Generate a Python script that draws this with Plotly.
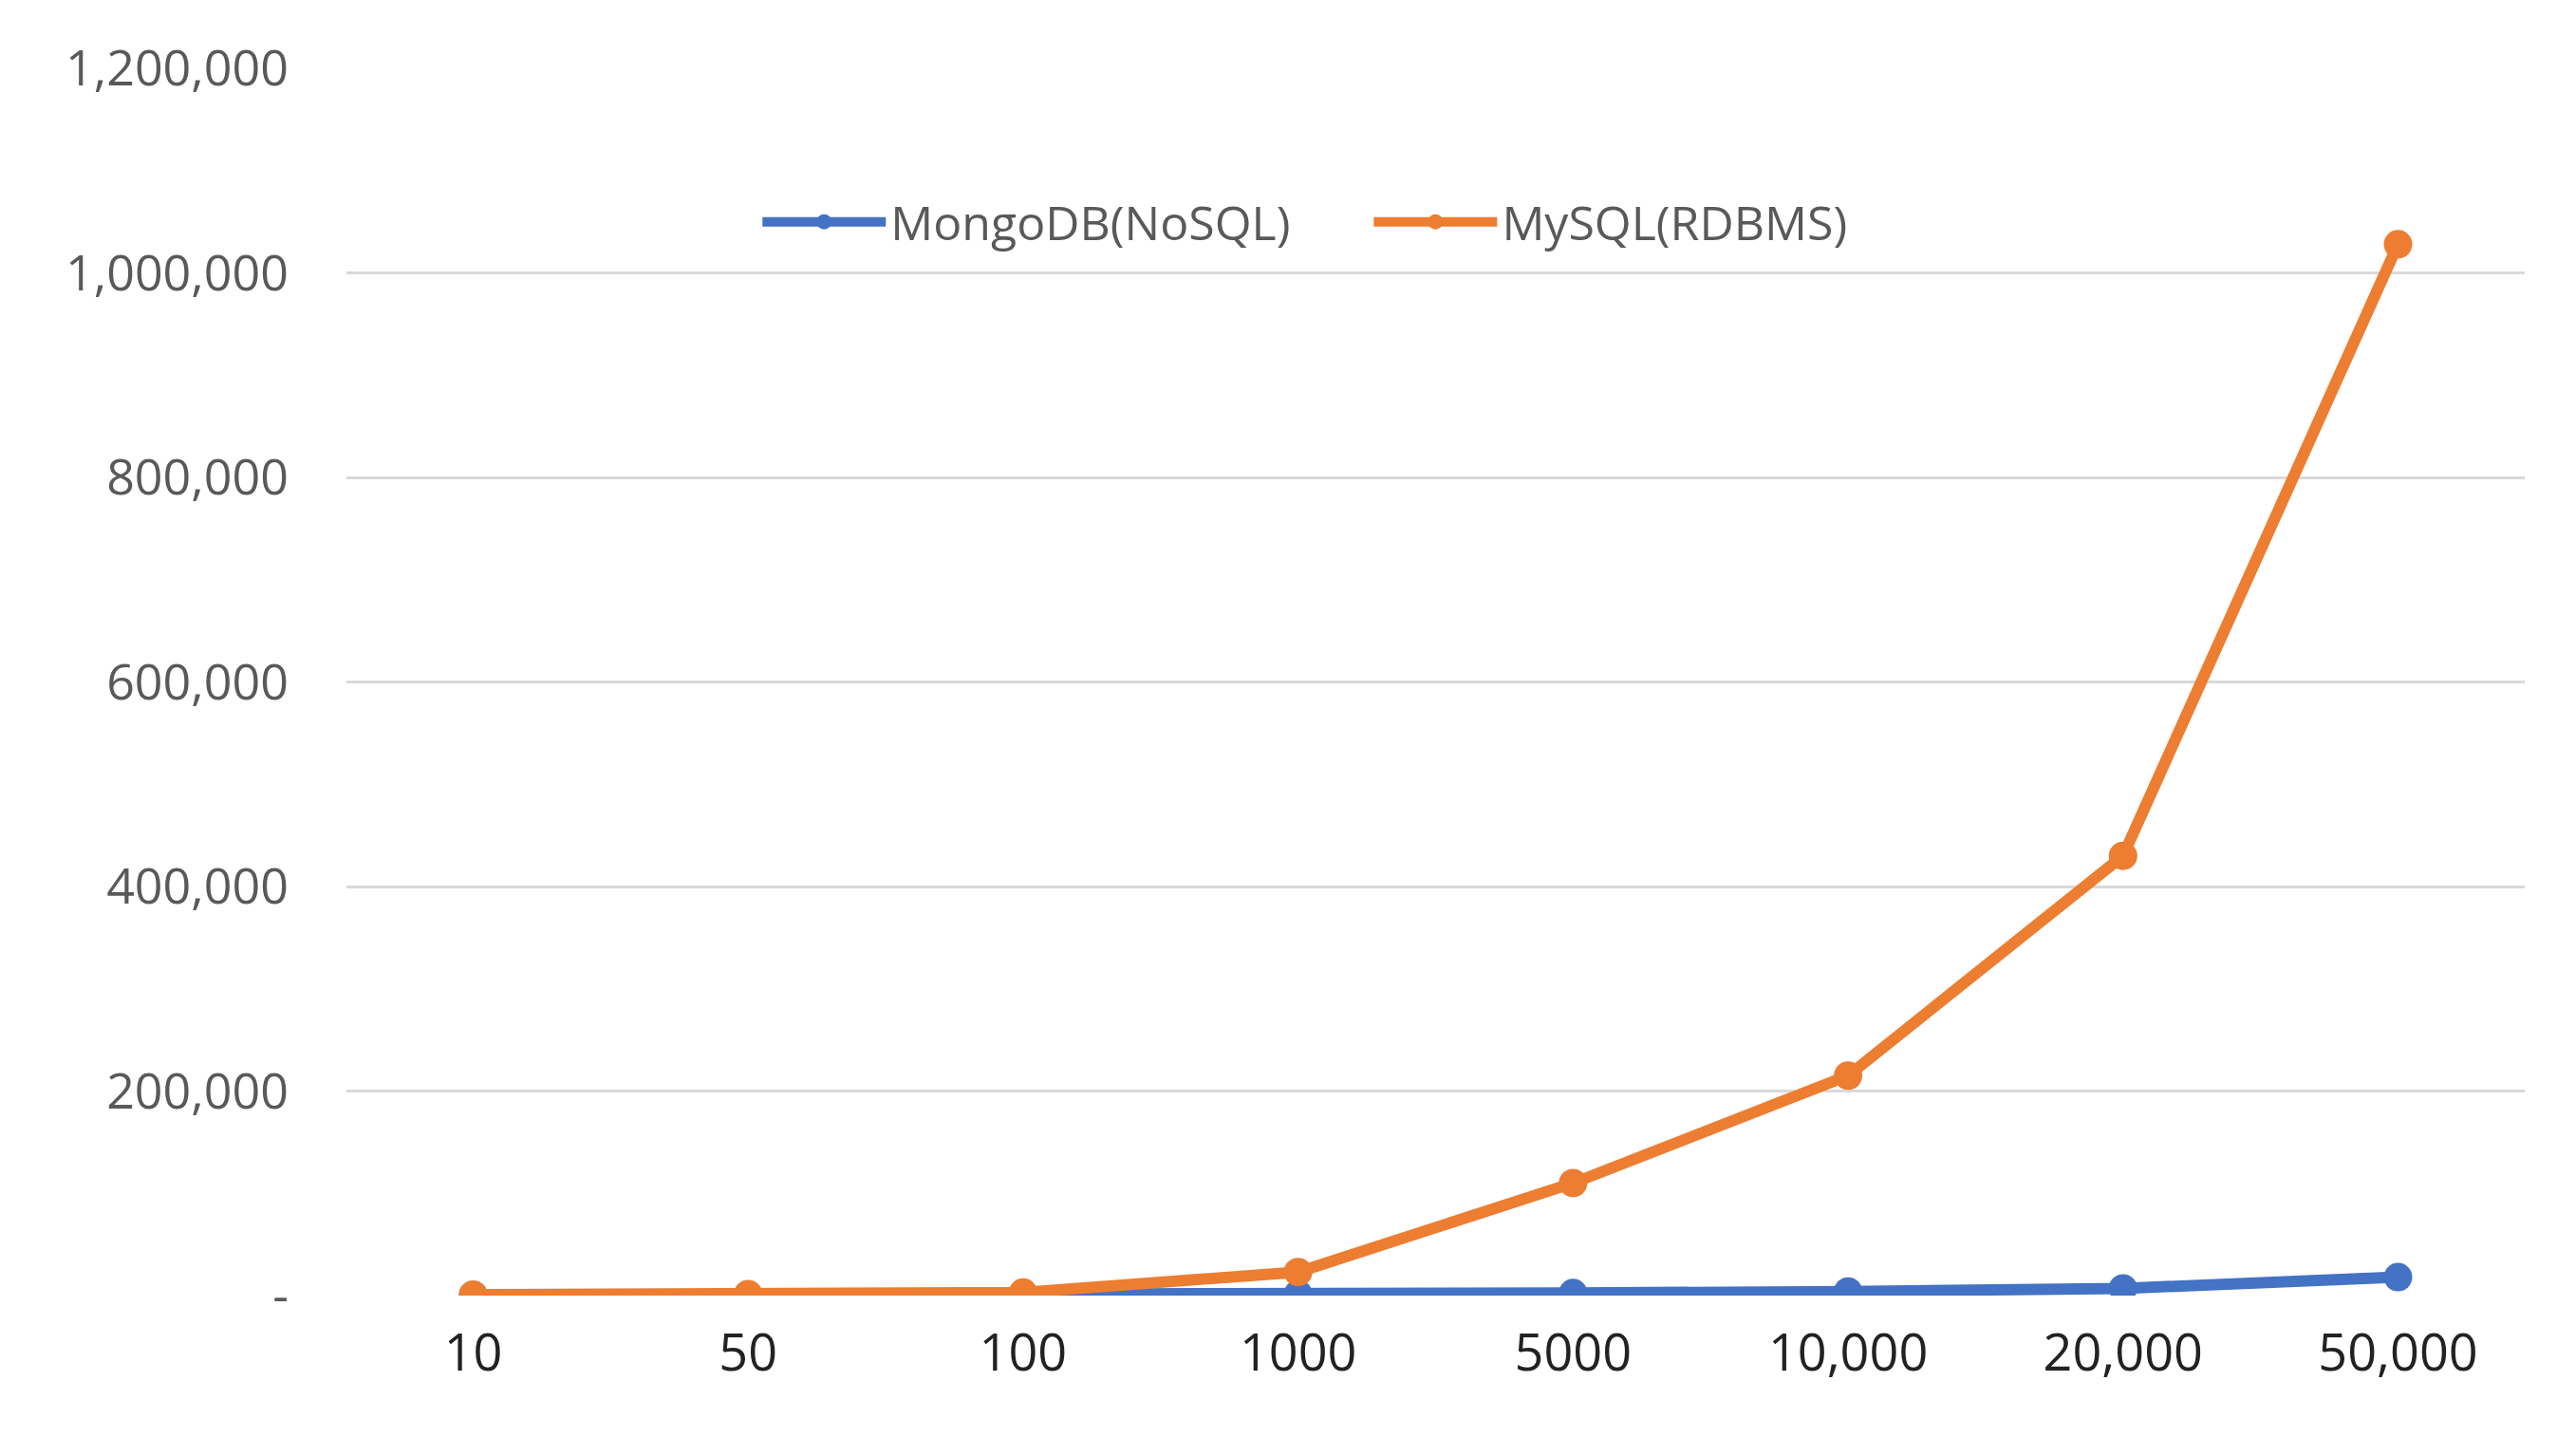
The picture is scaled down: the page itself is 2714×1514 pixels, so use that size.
import plotly.graph_objects as go

categories = ["10", "50", "100", "1000", "5000", "10,000", "20,000", "50,000"]
mongodb = [500, 600, 800, 1500, 2500, 4000, 7000, 18000]
mysql = [1000, 1500, 3000, 23000, 110000, 215000, 430000, 1028000]
ytick_vals = [0, 200000, 400000, 600000, 800000, 1000000, 1200000]
ytick_text = ["-", "200,000", "400,000", "600,000", "800,000", "1,000,000", "1,200,000"]

fig = go.Figure()
fig.add_trace(go.Scatter(x=categories, y=mongodb, name="MongoDB(NoSQL)      ", mode="lines+markers",
                         line=dict(color="#4472C4", width=12), marker=dict(size=30, color="#4472C4")))
fig.add_trace(go.Scatter(x=categories, y=mysql, name="MySQL(RDBMS)", mode="lines+markers",
                         line=dict(color="#ED7D31", width=12), marker=dict(size=30, color="#ED7D31")))

fig.update_layout(
    width=2714, height=1514,
    paper_bgcolor="white", plot_bgcolor="white",
    margin=dict(l=357, r=62, t=64, b=157),
    font=dict(family="Open Sans", size=50, color="#595959"),
    legend=dict(orientation="h", x=0.44, y=0.875, xanchor="center", yanchor="middle",
                font=dict(size=50, color="#595959"), itemwidth=130, bgcolor="rgba(0,0,0,0)"),
    xaxis=dict(type="category", showgrid=False, showline=False, ticks="",
               tickfont=dict(size=54, color="#222222"), ticklabelstandoff=24),
    yaxis=dict(range=[0, 1200000], tickvals=ytick_vals, ticktext=ytick_text,
               showgrid=True, gridcolor="#D9D9D9", gridwidth=3, zeroline=False,
               ticklabelstandoff=60, tickfont=dict(size=52, color="#595959")),
)
fig.write_html("out.html")
